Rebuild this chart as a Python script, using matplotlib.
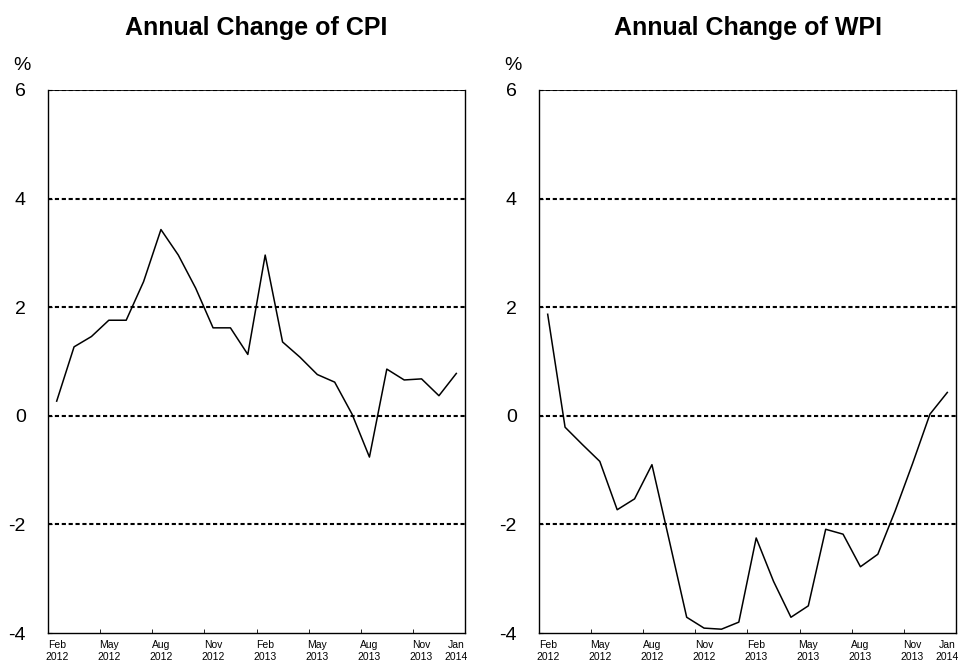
import matplotlib
matplotlib.use("Agg")
import matplotlib.pyplot as plt
import numpy as np

plt.rcParams['font.family'] = ['Liberation Sans', 'DejaVu Sans']

# месяцы Feb 2012 .. Jan 2014
months = ["Feb\n2012", "Mar", "Apr", "May\n2012", "Jun", "Jul", "Aug\n2012", "Sep", "Oct",
          "Nov\n2012", "Dec", "Jan", "Feb\n2013", "Mar", "Apr", "May\n2013", "Jun", "Jul",
          "Aug\n2013", "Sep", "Oct", "Nov\n2013", "Dec", "Jan\n2014"]
label_idx = [0, 3, 6, 9, 12, 15, 18, 21, 23]

cpi = [0.27, 1.27, 1.46, 1.76, 1.76, 2.47, 3.43, 2.96, 2.35, 1.62, 1.62, 1.13,
       2.96, 1.36, 1.08, 0.76, 0.62, 0.03, -0.76, 0.86, 0.66, 0.68, 0.37, 0.78]
wpi = [1.87, -0.21, -0.53, -0.84, -1.73, -1.53, -0.90, -2.30, -3.71, -3.91, -3.93, -3.80,
       -2.25, -3.05, -3.71, -3.50, -2.09, -2.18, -2.78, -2.55, -1.75, -0.88, 0.03, 0.43]

titles = ["Annual Change of CPI", "Annual Change of WPI"]
series = [cpi, wpi]
y_ticks = [-4, -2, 0, 2, 4, 6]

fig = plt.figure(figsize=(9.68, 6.64), dpi=100)
W, H = 968, 664
lefts = [48, 539]
x = np.arange(len(months))

for left, title, vals in zip(lefts, titles, series):
    ax = fig.add_axes([left / W, (H - 633) / H, 417 / W, 543 / H])
    ax.plot(x, vals, color="black", lw=1.1, zorder=3)
    ax.set_xlim(-0.5, len(months) - 0.5)
    ax.set_ylim(-4, 6)

    # пунктирные линии сетки
    for v in y_ticks[1:]:
        ax.axhline(v, color="black", lw=1.5, dashes=(2, 1.3), zorder=2)

    ax.set_yticks(y_ticks)
    ax.set_yticklabels([str(v) for v in y_ticks], fontsize=14)
    ax.tick_params(axis="y", direction="in", length=3, pad=16)

    ax.set_xticks(label_idx)
    ax.set_xticklabels([months[i] for i in label_idx], fontsize=7.5, linespacing=1.3)
    ax.tick_params(axis="x", which="major", length=0, pad=5)
    ax.set_xticks(np.arange(2.5, len(months) - 1, 3), minor=True)
    ax.tick_params(axis="x", which="minor", direction="in", length=3)

    for s in ["left", "right", "bottom"]:
        ax.spines[s].set_linewidth(1.0)
    ax.spines["top"].set_linewidth(0.6)

    ax.annotate("%", xy=(0, 1), xycoords="axes fraction", xytext=(-19, 18),
                textcoords="offset points", ha="center", va="center", fontsize=14)
    fig.text((left + 417 / 2) / W, 1 - 28 / H, title, ha="center", va="center",
             fontsize=18, fontweight="bold")

plt.savefig("out.png", dpi=100)
plt.close()
